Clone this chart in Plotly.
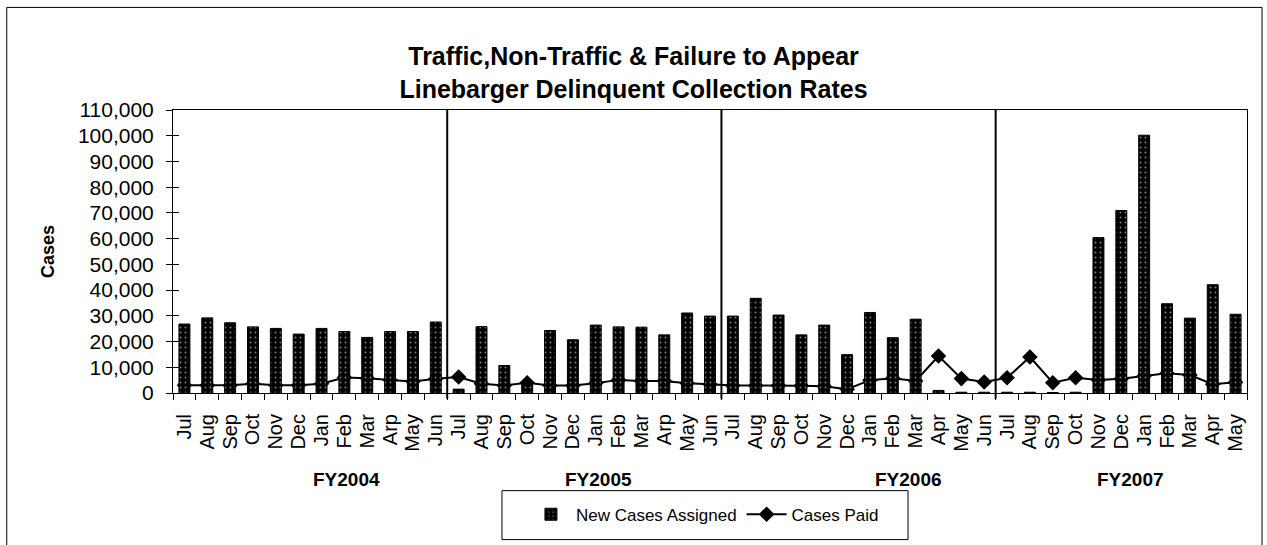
import plotly.graph_objects as go

# month labels per fiscal year (typos kept as printed)
fy2004_months = ["Jul", "Aug", "Sep", "Oct", "Nov", "Dec", "Jan", "Feb", "Mar", "Arp", "May", "Jun"]
fy2005_months = ["Jul", "Aug", "Sep", "Oct", "Nov", "Dec", "Jan", "Feb", "Mar", "Arp", "May", "Jun"]
fy2006_months = ["Jul", "Aug", "Sep", "Oct", "Nov", "Dec", "Jan", "Feb", "Mar", "Apr", "May", "Jun"]
fy2007_months = ["Jul", "Aug", "Sep", "Oct", "Nov", "Dec", "Jan", "Feb", "Mar", "Apr", "May"]

fiscal_years = ["FY2004", "FY2005", "FY2006", "FY2007"]

# New Cases Assigned (bars)
new_2004 = [26800, 29200, 27300, 25700, 25100, 22900, 25100, 23900, 21600, 23900, 23900, 27600]
new_2005 = [1500, 25800, 10700, 3000, 24300, 20700, 26400, 25700, 25600, 22600, 31100, 29900]
new_2006 = [29900, 36800, 30300, 22600, 26400, 14900, 31300, 21500, 28700, 1000, 300, 300]
new_2007 = [300, 300, 200, 300, 60400, 70900, 100200, 34700, 29100, 42100, 30600]

# Cases Paid (line)
paid_2004 = [3000, 3000, 3000, 3600, 3000, 3000, 3600, 6000, 5700, 5100, 4500, 5500]
paid_2005 = [6200, 3600, 2900, 4000, 2900, 2900, 3800, 5100, 4700, 4700, 3800, 3400]
paid_2006 = [2900, 2900, 2900, 2800, 2600, 1500, 5000, 5700, 4700, 14400, 5600, 4300]
paid_2007 = [5900, 14000, 4000, 5900, 5100, 5500, 6600, 7700, 7000, 3400, 4200]

groups = [fy2004_months, fy2005_months, fy2006_months, fy2007_months]
labels = fy2004_months + fy2005_months + fy2006_months + fy2007_months
new_cases = new_2004 + new_2005 + new_2006 + new_2007
cases_paid = paid_2004 + paid_2005 + paid_2006 + paid_2007
x = list(range(len(labels)))

FONT = "Arial, Liberation Sans, sans-serif"

fig = go.Figure()

# line first on the base axes so the bars (overlay axes) sit on top of it
fig.add_trace(go.Scatter(
    x=x, y=cases_paid, name="Cases Paid", mode="lines+markers",
    line=dict(color="black", width=2),
    marker=dict(symbol="diamond", size=12, color="black"),
    legendrank=2,
))
fig.add_trace(go.Bar(
    x=x, y=new_cases, name="New Cases Assigned",
    xaxis="x2", yaxis="y2",
    marker=dict(color="black", line=dict(color="black", width=1),
                pattern=dict(shape=".", fgcolor="white", bgcolor="black",
                             size=5, solidity=0.12)),
    legendrank=1,
))

# fiscal year separators and labels
starts = []
n = 0
for g in groups:
    starts.append(n)
    n += len(g)
shapes = []
for s in starts[1:]:
    shapes.append(dict(type="line", xref="x", yref="paper", x0=s - 0.5, x1=s - 0.5,
                       y0=-0.02, y1=1, line=dict(color="black", width=2)))
# outer frame of the chart
shapes.append(dict(type="rect", xref="paper", yref="paper", x0=-0.1548, x1=1.014,
                   y0=-0.56, y1=1.3625, line=dict(color="black", width=1)))
# legend box
shapes.append(dict(type="rect", xref="paper", yref="paper", x0=0.3063, x1=0.6844,
                   y0=-0.518, y1=-0.345, line=dict(color="black", width=1)))

fy_pos = [7.1, 18.1, 31.7, 41.4]
annotations = [dict(text="<b>%s</b>" % fy, x=p, xref="x", y=-0.306, yref="paper",
                    yanchor="middle", showarrow=False,
                    font=dict(size=19, family=FONT, color="black"))
               for fy, p in zip(fiscal_years, fy_pos)]

fig.update_layout(
    width=1267, height=545,
    margin=dict(l=173, r=20, t=110, b=152),
    paper_bgcolor="white", plot_bgcolor="white",
    font=dict(family=FONT, color="black"),
    title=dict(text="<b>Traffic,Non-Traffic & Failure to Appear<br>Linebarger Delinquent Collection Rates</b>",
               x=0.5, xref="container", xanchor="center",
               y=1 - 65 / 545, yref="container", yanchor="middle",
               font=dict(size=25, family=FONT, color="black")),
    bargap=0.52,
    xaxis=dict(range=[-0.5, len(x) - 0.5], tickmode="array", tickvals=x, ticktext=labels,
               tickangle=-90, tickfont=dict(size=20), ticks="outside", ticklen=12,
               tickcolor="rgba(0,0,0,0)",
               minor=dict(tickmode="array", tickvals=[i - 0.5 for i in range(len(x) + 1)],
                          ticks="outside", ticklen=6, tickcolor="black", showgrid=False),
               showline=True, linecolor="black", linewidth=1, mirror=True,
               showgrid=False, zeroline=False),
    yaxis=dict(range=[0, 110000], dtick=10000, tickformat=",", tickfont=dict(size=21),
               ticks="outside", ticklen=6, tickcolor="black", ticklabelstandoff=8,
               showline=True, linecolor="black", linewidth=1, mirror=True,
               showgrid=False, zeroline=False,
               title=dict(text="<b>Cases</b>", font=dict(size=18), standoff=18)),
    xaxis2=dict(overlaying="x", range=[-0.5, len(x) - 0.5], visible=False),
    yaxis2=dict(overlaying="y", range=[0, 110000], dtick=10000, side="left",
                ticks="inside", ticklen=6, tickcolor="black", showticklabels=False,
                showline=False, showgrid=False, zeroline=False),
    legend=dict(orientation="h", x=0.4953, xanchor="center", y=-0.43, yanchor="middle",
                borderwidth=0, bgcolor="rgba(0,0,0,0)", font=dict(size=17),
                itemwidth=40, entrywidth=0),
    shapes=shapes,
    annotations=annotations,
)

fig.write_html("out.html", config={"displayModeBar": False},
               post_script="document.body.style.margin = '0';")
